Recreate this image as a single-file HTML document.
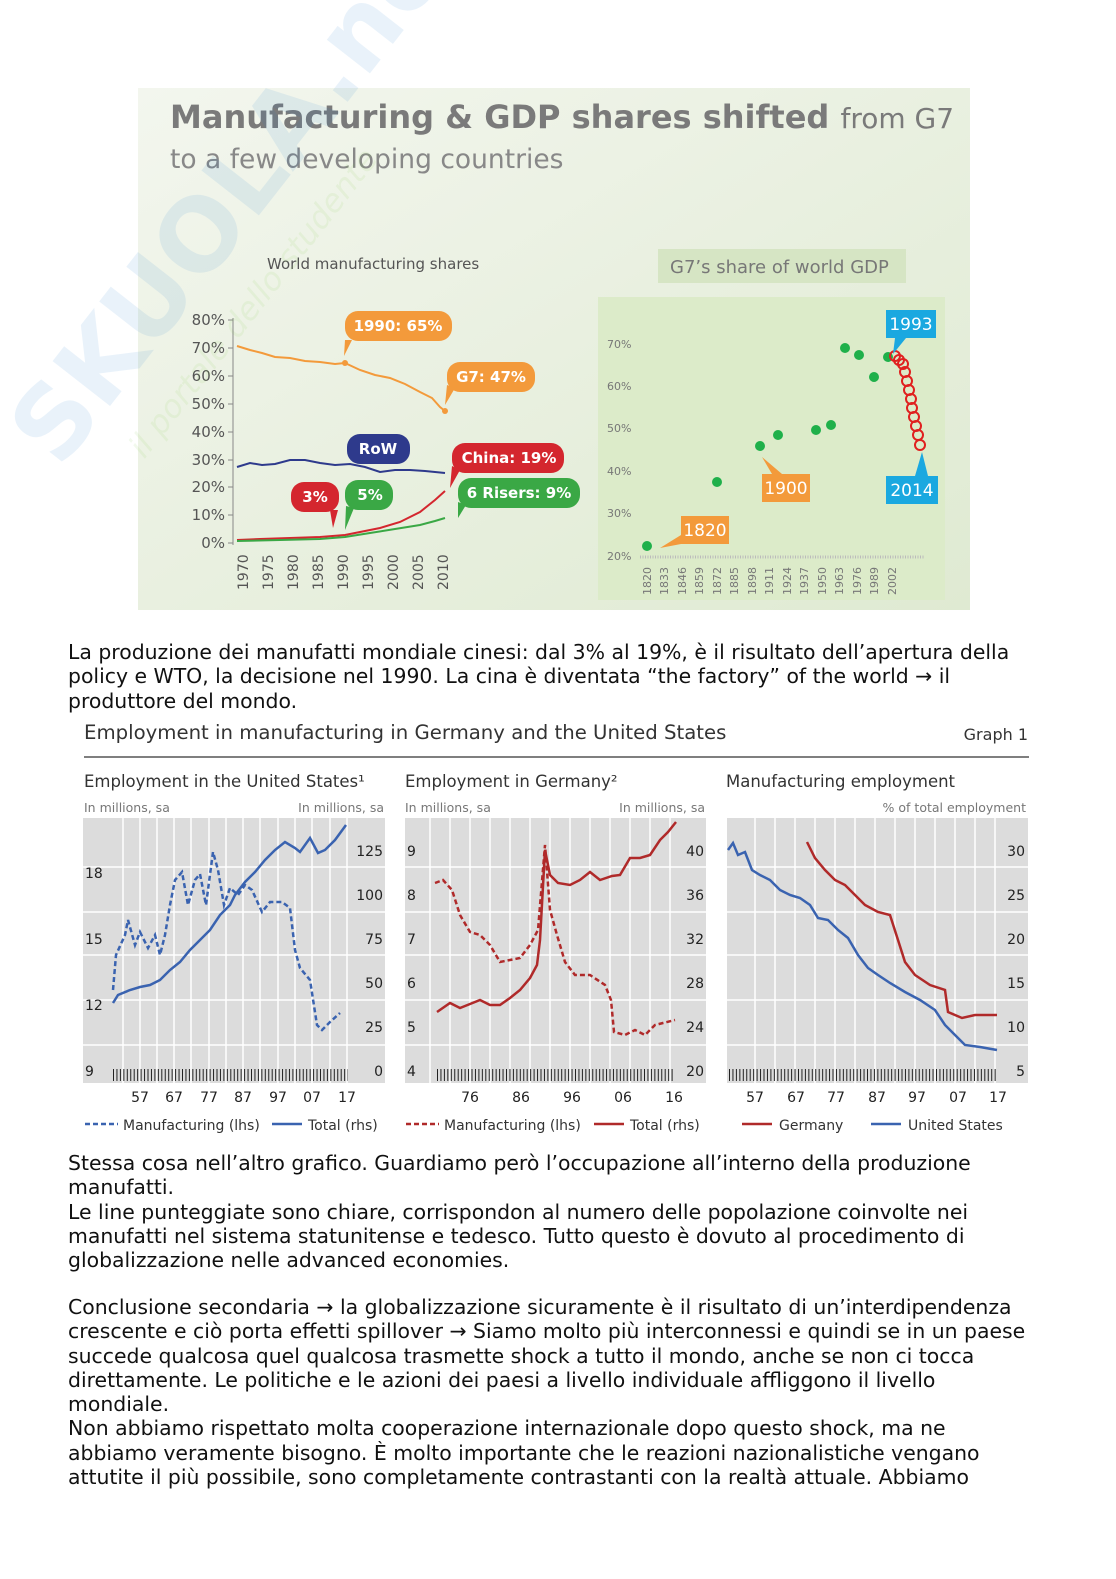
<!DOCTYPE html>
<html><head><meta charset="utf-8"><style>
body{margin:0;background:#fff;width:1116px;height:1579px;position:relative;overflow:hidden;font-family:"DejaVu Sans","Liberation Sans",sans-serif;}
.p{position:absolute;left:68px;font-size:20.4px;line-height:24.3px;color:#111;white-space:nowrap;}
svg text{font-family:"DejaVu Sans","Liberation Sans",sans-serif;}
</style></head><body>
<svg width="1116" height="1579" style="position:absolute;left:0;top:0">
<defs><linearGradient id="bg" x1="0" y1="0" x2="1" y2="1"><stop offset="0" stop-color="#f3f6ee"/><stop offset="1" stop-color="#dfead2"/></linearGradient></defs>
<rect x="138" y="88" width="832" height="522" fill="url(#bg)"/>
<text x="170" y="128" font-size="32" font-weight="bold" fill="#7a7a7a">Manufacturing &amp; GDP shares shifted <tspan font-weight="normal" font-size="28">from G7</tspan></text>
<text x="170" y="168" font-size="26.5" fill="#888">to a few developing countries</text>
<text x="267" y="269" font-size="15" fill="#555">World manufacturing shares</text>
<rect x="658" y="249" width="248" height="34" fill="#d6e5c4"/>
<text x="670" y="273" font-size="18" fill="#777">G7’s share of world GDP</text>
<g font-size="15" fill="#555" text-anchor="end">
<text x="225" y="325">80%</text><text x="225" y="353">70%</text><text x="225" y="381">60%</text><text x="225" y="409">50%</text><text x="225" y="437">40%</text><text x="225" y="465">30%</text><text x="225" y="492">20%</text><text x="225" y="520">10%</text><text x="225" y="548">0%</text></g>
<line x1="233" y1="318" x2="233" y2="545" stroke="#888"/>
<g stroke="#888"><line x1="228" y1="320" x2="233" y2="320"/><line x1="228" y1="348" x2="233" y2="348"/><line x1="228" y1="376" x2="233" y2="376"/><line x1="228" y1="404" x2="233" y2="404"/><line x1="228" y1="432" x2="233" y2="432"/><line x1="228" y1="460" x2="233" y2="460"/><line x1="228" y1="487" x2="233" y2="487"/><line x1="228" y1="515" x2="233" y2="515"/><line x1="228" y1="543" x2="233" y2="543"/></g>
<g font-size="14" fill="#555">
<text transform="translate(248,590) rotate(-90)">1970</text><text transform="translate(273,590) rotate(-90)">1975</text><text transform="translate(298,590) rotate(-90)">1980</text><text transform="translate(323,590) rotate(-90)">1985</text><text transform="translate(348,590) rotate(-90)">1990</text><text transform="translate(373,590) rotate(-90)">1995</text><text transform="translate(398,590) rotate(-90)">2000</text><text transform="translate(423,590) rotate(-90)">2005</text><text transform="translate(448,590) rotate(-90)">2010</text></g>
<polyline fill="none" stroke="#f39a3b" stroke-width="2" points="237,346 250,350 262,353 275,357 290,358 305,361 320,362 335,364 345,363 360,370 375,375 390,378 405,384 420,392 432,398 440,407 445,411"/>
<circle cx="345" cy="363" r="3" fill="#f39a3b"/><circle cx="445" cy="411" r="3" fill="#f39a3b"/>
<polyline fill="none" stroke="#2e3a8c" stroke-width="2" points="237,467 250,463 262,465 275,464 290,460 305,460 320,463 335,465 350,464 365,467 380,472 395,470 410,470 425,471 445,473"/>
<polyline fill="none" stroke="#d4262e" stroke-width="2" points="237,540 260,539 290,538 320,537 345,535 360,532 380,528 400,522 420,512 435,500 445,491"/>
<polyline fill="none" stroke="#3aa845" stroke-width="2" points="237,541 280,540 320,539 345,537 370,533 395,529 420,525 435,521 445,518"/>
<rect x="345" y="311" width="107" height="30" rx="13" fill="#f39a3b"/><polygon points="345,340 352,340 344,356" fill="#f39a3b"/><text x="398" y="331" font-size="15" font-weight="bold" fill="#fff" text-anchor="middle">1990: 65%</text>
<rect x="447" y="362" width="88" height="30" rx="13" fill="#f39a3b"/><polygon points="447,385 455,388 445,405" fill="#f39a3b"/><text x="491" y="382" font-size="15" font-weight="bold" fill="#fff" text-anchor="middle">G7: 47%</text>
<rect x="347" y="434" width="63" height="30" rx="13" fill="#2e3a8c"/><text x="378" y="454" font-size="15" font-weight="bold" fill="#fff" text-anchor="middle">RoW</text>
<rect x="452" y="443" width="112" height="30" rx="13" fill="#d4262e"/><polygon points="452,466 460,470 450,488" fill="#d4262e"/><text x="509" y="463" font-size="15" font-weight="bold" fill="#fff" text-anchor="middle">China: 19%</text>
<rect x="458" y="478" width="122" height="30" rx="13" fill="#3aa845"/><polygon points="458,502 466,505 458,518" fill="#3aa845"/><text x="519" y="498" font-size="15" font-weight="bold" fill="#fff" text-anchor="middle">6 Risers: 9%</text>
<rect x="291" y="482" width="48" height="30" rx="13" fill="#d4262e"/><polygon points="330,510 338,510 333,528" fill="#d4262e"/><text x="315" y="502" font-size="15" font-weight="bold" fill="#fff" text-anchor="middle">3%</text>
<rect x="345" y="480" width="48" height="30" rx="13" fill="#3aa845"/><polygon points="346,506 354,508 345,530" fill="#3aa845"/><text x="370" y="500" font-size="15" font-weight="bold" fill="#fff" text-anchor="middle">5%</text>
<rect x="598" y="297" width="347" height="303" fill="#dcebc9"/>
<g font-size="11" fill="#777"><text x="607" y="348">70%</text><text x="607" y="390">60%</text><text x="607" y="432">50%</text><text x="607" y="475">40%</text><text x="607" y="517">30%</text><text x="607" y="560">20%</text></g>
<line x1="640" y1="557" x2="925" y2="557" stroke="#bbb" stroke-width="3" stroke-dasharray="1,1.5"/>
<g font-size="11" fill="#777">
<text transform="translate(651,595) rotate(-90)">1820</text><text transform="translate(668,595) rotate(-90)">1833</text><text transform="translate(686,595) rotate(-90)">1846</text><text transform="translate(703,595) rotate(-90)">1859</text><text transform="translate(721,595) rotate(-90)">1872</text><text transform="translate(738,595) rotate(-90)">1885</text><text transform="translate(756,595) rotate(-90)">1898</text><text transform="translate(773,595) rotate(-90)">1911</text><text transform="translate(791,595) rotate(-90)">1924</text><text transform="translate(808,595) rotate(-90)">1937</text><text transform="translate(826,595) rotate(-90)">1950</text><text transform="translate(843,595) rotate(-90)">1963</text><text transform="translate(861,595) rotate(-90)">1976</text><text transform="translate(878,595) rotate(-90)">1989</text><text transform="translate(896,595) rotate(-90)">2002</text></g>
<g fill="#1fb04a"><circle cx="647" cy="546" r="5"/><circle cx="717" cy="482" r="5"/><circle cx="760" cy="446" r="5"/><circle cx="778" cy="435" r="5"/><circle cx="816" cy="430" r="5"/><circle cx="831" cy="425" r="5"/><circle cx="845" cy="348" r="5"/><circle cx="859" cy="355" r="5"/><circle cx="874" cy="377" r="5"/><circle cx="888" cy="357" r="5"/></g>
<g fill="none" stroke="#e0201f" stroke-width="2"><circle cx="895" cy="356" r="5"/><circle cx="899" cy="360" r="5"/><circle cx="903" cy="364" r="5"/><circle cx="905" cy="372" r="5"/><circle cx="907" cy="381" r="5"/><circle cx="909" cy="390" r="5"/><circle cx="911" cy="399" r="5"/><circle cx="912" cy="408" r="5"/><circle cx="914" cy="417" r="5"/><circle cx="916" cy="426" r="5"/><circle cx="918" cy="435" r="5"/><circle cx="920" cy="445" r="5"/></g>
<rect x="681" y="516" width="48" height="28" fill="#f39a3b"/><polygon points="681,535 681,544 660,548" fill="#f39a3b"/><text x="705" y="536" font-size="17" fill="#fff" text-anchor="middle">1820</text>
<rect x="762" y="474" width="48" height="28" fill="#f39a3b"/><polygon points="762,457 772,474 782,474" fill="#f39a3b"/><text x="786" y="494" font-size="17" fill="#fff" text-anchor="middle">1900</text>
<rect x="886" y="310" width="50" height="28" fill="#1aa8e0"/><polygon points="895,338 906,338 893,354" fill="#1aa8e0"/><text x="911" y="330" font-size="17" fill="#fff" text-anchor="middle">1993</text>
<rect x="886" y="476" width="52" height="28" fill="#1aa8e0"/><polygon points="915,476 928,476 922,452" fill="#1aa8e0"/><text x="912" y="496" font-size="17" fill="#fff" text-anchor="middle">2014</text>
<g opacity="0.09" transform="translate(60,470) rotate(-52)"><text x="0" y="0" font-size="100" font-weight="bold" fill="#1a7bd0" font-family="Liberation Sans,sans-serif">SKUOLA.net</text><text x="60" y="60" font-size="32" font-style="italic" fill="#7ac943">il portale dello studente</text></g>

<text x="84" y="739" font-size="19.7" fill="#333">Employment in manufacturing in Germany and the United States</text>
<text x="1028" y="740" font-size="16" fill="#333" text-anchor="end">Graph 1</text>
<line x1="84" y1="757" x2="1029" y2="757" stroke="#333" stroke-width="1.2"/>
<text x="84" y="787" font-size="16.5" fill="#333">Employment in the United States¹</text>
<text x="405" y="787" font-size="16.5" fill="#333">Employment in Germany²</text>
<text x="726" y="787" font-size="16.5" fill="#333">Manufacturing employment</text>
<g font-size="12.5" fill="#777"><text x="84" y="812">In millions, sa</text><text x="384" y="812" text-anchor="end">In millions, sa</text><text x="405" y="812">In millions, sa</text><text x="705" y="812" text-anchor="end">In millions, sa</text><text x="1026" y="812" text-anchor="end">% of total employment</text></g>
<rect x="83" y="818" width="302" height="265" fill="#dcdcdc"/>
<rect x="405" y="818" width="301" height="265" fill="#dcdcdc"/>
<rect x="727" y="818" width="301" height="265" fill="#dcdcdc"/>
<g stroke="#fff" stroke-width="1.5">
<line x1="83" y1="867" x2="385" y2="867"/><line x1="83" y1="912" x2="385" y2="912"/><line x1="83" y1="955" x2="385" y2="955"/><line x1="83" y1="1000" x2="385" y2="1000"/><line x1="83" y1="1045" x2="385" y2="1045"/>
<line x1="405" y1="867" x2="706" y2="867"/><line x1="405" y1="912" x2="706" y2="912"/><line x1="405" y1="955" x2="706" y2="955"/><line x1="405" y1="1000" x2="706" y2="1000"/><line x1="405" y1="1045" x2="706" y2="1045"/>
<line x1="727" y1="867" x2="1028" y2="867"/><line x1="727" y1="912" x2="1028" y2="912"/><line x1="727" y1="955" x2="1028" y2="955"/><line x1="727" y1="1000" x2="1028" y2="1000"/><line x1="727" y1="1045" x2="1028" y2="1045"/>
<line x1="123" y1="818" x2="123" y2="1083"/><line x1="140" y1="818" x2="140" y2="1083"/><line x1="157" y1="818" x2="157" y2="1083"/><line x1="174" y1="818" x2="174" y2="1083"/><line x1="191" y1="818" x2="191" y2="1083"/><line x1="209" y1="818" x2="209" y2="1083"/><line x1="226" y1="818" x2="226" y2="1083"/><line x1="243" y1="818" x2="243" y2="1083"/><line x1="260" y1="818" x2="260" y2="1083"/><line x1="278" y1="818" x2="278" y2="1083"/><line x1="295" y1="818" x2="295" y2="1083"/><line x1="312" y1="818" x2="312" y2="1083"/><line x1="330" y1="818" x2="330" y2="1083"/><line x1="347" y1="818" x2="347" y2="1083"/>
<line x1="430" y1="818" x2="430" y2="1083"/><line x1="450" y1="818" x2="450" y2="1083"/><line x1="470" y1="818" x2="470" y2="1083"/><line x1="490" y1="818" x2="490" y2="1083"/><line x1="510" y1="818" x2="510" y2="1083"/><line x1="530" y1="818" x2="530" y2="1083"/><line x1="550" y1="818" x2="550" y2="1083"/><line x1="570" y1="818" x2="570" y2="1083"/><line x1="590" y1="818" x2="590" y2="1083"/><line x1="610" y1="818" x2="610" y2="1083"/><line x1="630" y1="818" x2="630" y2="1083"/><line x1="650" y1="818" x2="650" y2="1083"/><line x1="670" y1="818" x2="670" y2="1083"/>
<line x1="755" y1="818" x2="755" y2="1083"/><line x1="775" y1="818" x2="775" y2="1083"/><line x1="795" y1="818" x2="795" y2="1083"/><line x1="815" y1="818" x2="815" y2="1083"/><line x1="835" y1="818" x2="835" y2="1083"/><line x1="855" y1="818" x2="855" y2="1083"/><line x1="875" y1="818" x2="875" y2="1083"/><line x1="895" y1="818" x2="895" y2="1083"/><line x1="915" y1="818" x2="915" y2="1083"/><line x1="935" y1="818" x2="935" y2="1083"/><line x1="955" y1="818" x2="955" y2="1083"/><line x1="975" y1="818" x2="975" y2="1083"/><line x1="995" y1="818" x2="995" y2="1083"/>
</g>
<g stroke="#222" stroke-width="1" stroke-dasharray="1,2.45"><line x1="113" y1="1075" x2="348" y2="1075" stroke-width="12"/><line x1="437" y1="1075" x2="675" y2="1075" stroke-width="12"/><line x1="729" y1="1075" x2="998" y2="1075" stroke-width="12"/></g>
<g font-size="14" fill="#222">
<text x="85" y="878">18</text><text x="85" y="944">15</text><text x="85" y="1010">12</text><text x="85" y="1076">9</text>
<g text-anchor="end"><text x="383" y="856">125</text><text x="383" y="900">100</text><text x="383" y="944">75</text><text x="383" y="988">50</text><text x="383" y="1032">25</text><text x="383" y="1076">0</text>
<text x="704" y="856">40</text><text x="704" y="900">36</text><text x="704" y="944">32</text><text x="704" y="988">28</text><text x="704" y="1032">24</text><text x="704" y="1076">20</text>
<text x="1025" y="856">30</text><text x="1025" y="900">25</text><text x="1025" y="944">20</text><text x="1025" y="988">15</text><text x="1025" y="1032">10</text><text x="1025" y="1076">5</text></g>
<text x="407" y="856">9</text><text x="407" y="900">8</text><text x="407" y="944">7</text><text x="407" y="988">6</text><text x="407" y="1032">5</text><text x="407" y="1076">4</text>
<g text-anchor="middle"><text x="140" y="1102">57</text><text x="174" y="1102">67</text><text x="209" y="1102">77</text><text x="243" y="1102">87</text><text x="278" y="1102">97</text><text x="312" y="1102">07</text><text x="347" y="1102">17</text>
<text x="470" y="1102">76</text><text x="521" y="1102">86</text><text x="572" y="1102">96</text><text x="623" y="1102">06</text><text x="674" y="1102">16</text>
<text x="755" y="1102">57</text><text x="796" y="1102">67</text><text x="836" y="1102">77</text><text x="877" y="1102">87</text><text x="917" y="1102">97</text><text x="958" y="1102">07</text><text x="998" y="1102">17</text></g>
</g>
<polyline fill="none" stroke="#3a63b0" stroke-width="2.5" points="113,1003 118,995 130,990 140,987 150,985 160,980 170,970 180,962 190,950 200,940 210,930 220,915 230,905 235,895 245,882 255,872 265,860 275,850 285,842 295,848 300,852 310,838 318,853 325,850 335,840 346,825"/>
<polyline fill="none" stroke="#3a63b0" stroke-width="2.5" stroke-dasharray="5,3" points="113,990 116,955 125,935 128,920 135,945 140,932 148,948 155,935 160,955 165,935 170,905 175,880 182,872 188,905 195,880 200,874 206,905 213,852 218,870 224,905 230,888 238,895 245,885 252,890 262,912 270,902 282,902 290,908 295,950 300,968 310,980 317,1025 322,1030 330,1022 340,1013"/>
<polyline fill="none" stroke="#b02a2a" stroke-width="2.5" points="437,1012 450,1003 460,1008 470,1004 480,1000 490,1005 500,1005 510,998 520,990 530,978 537,965 540,940 545,850 550,875 558,883 570,885 580,880 590,872 600,880 612,876 620,875 630,858 640,858 650,855 660,840 668,832 676,822"/>
<polyline fill="none" stroke="#b02a2a" stroke-width="2.5" stroke-dasharray="5,3" points="435,883 443,880 452,890 460,915 470,932 480,935 490,945 500,962 510,960 520,958 530,945 538,930 545,845 550,910 557,935 565,962 575,975 590,975 605,985 611,1000 614,1032 625,1035 635,1030 645,1035 655,1025 675,1020"/>
<polyline fill="none" stroke="#3a63b0" stroke-width="2.5" points="728,850 733,843 738,855 745,852 752,870 760,875 770,880 780,890 790,895 800,898 810,905 818,918 828,920 838,930 848,938 858,955 868,968 878,975 890,983 905,992 920,1000 935,1010 945,1025 955,1035 965,1045 980,1047 997,1050"/>
<polyline fill="none" stroke="#b02a2a" stroke-width="2.5" points="807,842 815,858 825,870 835,880 845,885 855,895 865,905 878,912 890,915 898,940 905,962 915,975 930,985 945,990 948,1012 962,1018 975,1015 997,1015"/>
<g font-size="14" fill="#333">
<line x1="85" y1="1124" x2="118" y2="1124" stroke="#3a63b0" stroke-width="2.5" stroke-dasharray="5,3"/><text x="123" y="1130">Manufacturing (lhs)</text>
<line x1="272" y1="1124" x2="302" y2="1124" stroke="#3a63b0" stroke-width="2.5"/><text x="308" y="1130">Total (rhs)</text>
<line x1="406" y1="1124" x2="439" y2="1124" stroke="#b02a2a" stroke-width="2.5" stroke-dasharray="5,3"/><text x="444" y="1130">Manufacturing (lhs)</text>
<line x1="594" y1="1124" x2="624" y2="1124" stroke="#b02a2a" stroke-width="2.5"/><text x="630" y="1130">Total (rhs)</text>
<line x1="742" y1="1124" x2="772" y2="1124" stroke="#b02a2a" stroke-width="2.5"/><text x="779" y="1130">Germany</text>
<line x1="871" y1="1124" x2="901" y2="1124" stroke="#3a63b0" stroke-width="2.5"/><text x="908" y="1130">United States</text>
</g>
</svg>
<div class="p" style="top:640px">La produzione dei manufatti mondiale cinesi: dal 3% al 19%, è il risultato dell’apertura della<br>policy e WTO, la decisione nel 1990. La cina è diventata “the factory” of the world → il<br>produttore del mondo.</div>
<div class="p" style="top:1151px">Stessa cosa nell’altro grafico. Guardiamo però l’occupazione all’interno della produzione<br>manufatti.<br>Le line punteggiate sono chiare, corrispondon al numero delle popolazione coinvolte nei<br>manufatti nel sistema statunitense e tedesco. Tutto questo è dovuto al procedimento di<br>globalizzazione nelle advanced economies.</div>
<div class="p" style="top:1295px">Conclusione secondaria → la globalizzazione sicuramente è il risultato di un’interdipendenza<br>crescente e ciò porta effetti spillover → Siamo molto più interconnessi e quindi se in un paese<br>succede qualcosa quel qualcosa trasmette shock a tutto il mondo, anche se non ci tocca<br>direttamente. Le politiche e le azioni dei paesi a livello individuale affliggono il livello<br>mondiale.<br>Non abbiamo rispettato molta cooperazione internazionale dopo questo shock, ma ne<br>abbiamo veramente bisogno. È molto importante che le reazioni nazionalistiche vengano<br>attutite il più possibile, sono completamente contrastanti con la realtà attuale. Abbiamo</div>
</body></html>
